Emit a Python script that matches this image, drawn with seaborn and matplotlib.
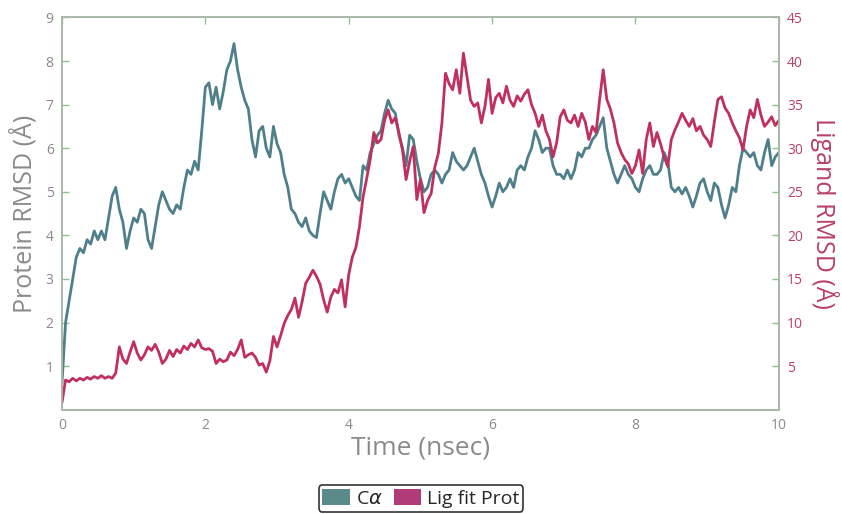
import numpy as np
import pandas as pd
import matplotlib
matplotlib.use("Agg")
import matplotlib.pyplot as plt
from matplotlib.patches import Patch
import seaborn as sns

# Protein C-alpha RMSD (Angstrom), one value every 0.05 ns
ca_rmsd = [
    0.6, 2.0, 2.5, 3.0, 3.5, 3.7, 3.6, 3.9, 3.8, 4.1, 3.9, 4.1, 3.9, 4.4, 4.9, 5.1, 4.6, 4.3, 3.7, 4.1,
    4.4, 4.3, 4.6, 4.5, 3.9, 3.7, 4.2, 4.7, 5.0, 4.8, 4.6, 4.5, 4.7, 4.6, 5.1, 5.5, 5.4, 5.7, 5.5, 6.4,
    7.4, 7.5, 7.0, 7.4, 6.9, 7.3, 7.8, 8.0, 8.4, 7.8, 7.4, 7.1, 6.9, 6.2, 5.8, 6.4, 6.5, 6.0, 5.8, 6.5,
    6.1, 5.9, 5.4, 5.1, 4.6, 4.5, 4.3, 4.2, 4.4, 4.1, 4.0, 3.95, 4.5, 5.0, 4.8, 4.6, 5.0, 5.3, 5.4, 5.2,
    5.3, 5.1, 4.9, 4.8, 5.6, 5.5, 5.9, 6.1, 6.3, 6.4, 6.8, 7.1, 6.9, 6.8, 6.3, 6.0, 5.6, 6.3, 6.2, 5.7,
    5.3, 5.0, 5.1, 5.4, 5.5, 5.4, 5.2, 5.4, 5.5, 5.9, 5.7, 5.6, 5.5, 5.6, 5.8, 6.0, 5.7, 5.4, 5.2, 4.9,
    4.65, 4.9, 5.2, 5.0, 5.1, 5.3, 5.1, 5.5, 5.6, 5.5, 5.8, 6.0, 6.4, 6.2, 5.9, 6.0, 6.0, 5.6, 5.4, 5.4,
    5.3, 5.5, 5.3, 5.5, 5.9, 5.8, 6.0, 6.0, 6.2, 6.3, 6.5, 6.7, 6.0, 5.7, 5.4, 5.2, 5.4, 5.6, 5.4, 5.3,
    5.1, 5.0, 5.3, 5.5, 5.6, 5.4, 5.4, 5.5, 5.9, 5.7, 5.1, 5.0, 5.1, 4.95, 5.1, 4.9, 4.65, 4.9, 5.2, 5.3,
    5.0, 4.8, 5.2, 5.1, 4.7, 4.4, 4.7, 5.1, 5.0, 5.6, 6.0, 5.9, 5.8, 5.9, 5.6, 5.5, 5.9, 6.2, 5.6, 5.8,
    5.9,
]

# Ligand RMSD fitted on protein (Angstrom), same sampling
lig_rmsd = [
    0.8, 3.4, 3.2, 3.6, 3.3, 3.6, 3.4, 3.7, 3.5, 3.8, 3.6, 3.9, 3.6, 3.8, 3.6, 4.2, 7.2, 5.8, 5.3, 6.6,
    7.8, 6.5, 5.7, 6.3, 7.2, 6.8, 7.5, 6.6, 5.3, 5.8, 6.8, 6.1, 6.9, 6.5, 7.3, 6.9, 7.6, 7.2, 8.0, 7.1,
    6.9, 7.0, 6.7, 5.3, 5.8, 5.5, 5.7, 6.6, 6.2, 6.9, 8.0, 6.0, 6.3, 6.5, 6.0, 5.1, 5.3, 4.3, 5.6, 8.4,
    7.2, 8.5, 9.9, 10.8, 11.5, 12.8, 10.6, 12.4, 14.5, 15.2, 16.0, 15.3, 14.4, 12.6, 11.2, 12.9, 13.8, 13.4, 14.9, 11.8,
    15.5, 17.5, 18.6, 21.0, 24.4, 26.5, 28.7, 31.8, 30.6, 31.0, 33.2, 34.4, 32.9, 33.5, 31.8, 29.8, 26.4, 28.5, 30.2, 24.1,
    26.4, 22.6, 24.0, 24.8, 27.8, 29.4, 32.9, 38.6, 37.4, 36.7, 39.0, 36.3, 40.9, 38.2, 35.5, 34.8, 35.2, 32.9, 34.8, 37.9,
    34.0, 35.8, 36.3, 35.2, 37.1, 35.5, 34.8, 36.0, 35.4, 36.2, 36.7, 35.0, 34.0, 32.5, 33.8, 32.0, 31.0, 29.0, 30.6, 33.6,
    34.4, 33.2, 32.9, 33.8, 32.5, 34.0, 33.0, 31.0, 32.5, 31.8, 35.6, 39.0, 35.6, 34.5, 32.9, 30.6, 29.5, 28.7, 28.2, 27.1,
    28.0, 29.8, 27.1, 31.0, 32.9, 30.2, 31.8, 30.5, 29.0, 27.9, 31.0, 32.1, 33.0, 34.0, 33.2, 32.5, 33.4, 32.0, 32.5, 31.5,
    31.0, 30.2, 33.0, 35.6, 35.9, 34.6, 34.0, 32.9, 32.0, 31.2, 29.8, 32.5, 34.4, 33.5, 35.6, 33.8, 32.5, 33.0, 33.6, 32.6,
    33.2,
]

time_ns = np.linspace(0, 10, len(ca_rmsd))

x_ticks = [0, 2, 4, 6, 8, 10]
left_ticks = [1, 2, 3, 4, 5, 6, 7, 8, 9]
right_ticks = [5, 10, 15, 20, 25, 30, 35, 40, 45]

ca_color = "#4e7f8b"
lig_color = "#c0305e"
ca_patch = "#5b8a8a"
lig_patch = "#b03a7a"
spine_color = "#a9b8a9"
tick_color = "#8fc08f"
gray_text = "#8a8a8a"
lig_text = "#b8406c"

sns.set_style("white")
plt.rcParams["font.family"] = ["Open Sans", "DejaVu Sans"]

df = pd.DataFrame({"Time": time_ns, "Ca": ca_rmsd, "Lig": lig_rmsd})

fig = plt.figure(figsize=(8.42, 5.14), dpi=100)
ax = fig.add_axes([0.0736, 0.203, 0.8514, 0.763])
ax2 = ax.twinx()

sns.lineplot(data=df, x="Time", y="Ca", ax=ax, color=ca_color, linewidth=2.0)
sns.lineplot(data=df, x="Time", y="Lig", ax=ax2, color=lig_color, linewidth=2.0)

ax.set_xlim(0, 10)
ax.set_ylim(0, 9)
ax2.set_ylim(0, 45)
ax.set_xticks(x_ticks)
ax.set_yticks(left_ticks)
ax2.set_yticks(right_ticks)

for a in (ax, ax2):
    for s in a.spines.values():
        s.set_color(spine_color)
        s.set_linewidth(1.2)
    a.tick_params(direction="in", length=5, width=1, color=tick_color, labelsize=10, pad=6)

ax.tick_params(axis="x", top=True, labelcolor=gray_text)
ax.tick_params(axis="y", labelcolor=gray_text)
ax2.tick_params(axis="y", labelcolor=lig_text)

ax.set_xlabel("Time (nsec)", fontsize=19, color=gray_text, labelpad=2)
ax.set_ylabel("Protein RMSD (Å)", fontsize=18, color=gray_text, labelpad=6)
ax2.set_ylabel("Ligand RMSD (Å)", fontsize=18, color=lig_text, labelpad=5, rotation=270, va="bottom")

handles = [Patch(facecolor=ca_patch, edgecolor="none", label="C$\\alpha$"),
           Patch(facecolor=lig_patch, edgecolor="none", label="Lig fit Prot")]
leg = fig.legend(handles=handles, loc="lower center", bbox_to_anchor=(0.5, -0.015), ncol=2,
                 fontsize=14, frameon=True, handlelength=1.4, handleheight=0.9,
                 handletextpad=0.3, columnspacing=0.6, borderpad=0.2, fancybox=True)
leg.get_frame().set_edgecolor("black")
leg.get_frame().set_linewidth(1.2)

fig.savefig("out.png", dpi=100)
